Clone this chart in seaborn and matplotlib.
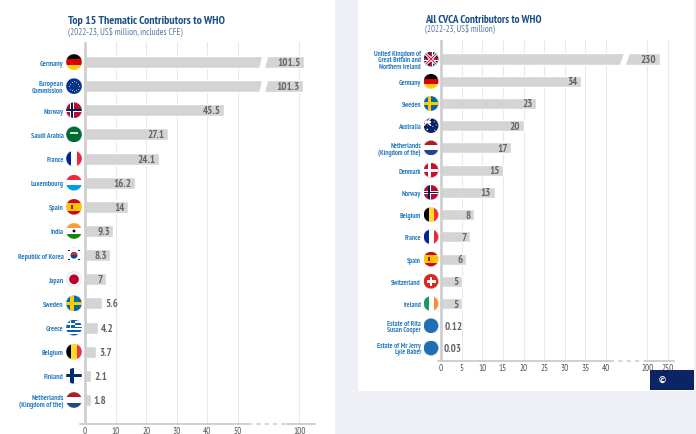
import numpy as np
import pandas as pd
import matplotlib
matplotlib.use("Agg")
import matplotlib.pyplot as plt
import matplotlib.transforms as mtransforms
import seaborn as sns
from matplotlib import font_manager
from matplotlib.patches import Rectangle, Circle, Polygon

# ---------------- data ----------------
left_names = ["Germany", "European\nCommission", "Norway", "Saudi Arabia", "France",
              "Luxembourg", "Spain", "India", "Republic of Korea", "Japan", "Sweden",
              "Greece", "Belgium", "Finland", "Netherlands\n(Kingdom of the)"]
left_values = [101.5, 101.3, 45.5, 27.1, 24.1, 16.2, 14, 9.3, 8.3, 7, 5.6, 4.2, 3.7, 2.1, 1.8]
left_labels = ["101.5", "101.3", "45.5", "27.1", "24.1", "16.2", "14", "9.3", "8.3", "7",
               "5.6", "4.2", "3.7", "2.1", "1.8"]
left_flags = ["de", "eu", "no", "sa", "fr", "lu", "es", "in", "kr", "jp", "se", "gr", "be", "fi", "nl"]
left_ticks = [0, 10, 20, 30, 40, 50, 100]

right_names = ["United Kingdom of\nGreat Britain and\nNorthern Ireland", "Germany", "Sweden",
               "Australia", "Netherlands\n(Kingdom of the)", "Denmark", "Norway", "Belgium",
               "France", "Spain", "Switzerland", "Ireland", "Estate of Rita\nSusan Cooper",
               "Estate of Mr Jerry\nLyle Baber"]
right_values = [230, 34, 23, 20, 17, 15, 13, 8, 7, 6, 5, 5, 0.12, 0.03]
right_labels = ["230", "34", "23", "20", "17", "15", "13", "8", "7", "6", "5", "5", "0.12", "0.03"]
right_flags = ["gb", "de", "se", "au", "nl", "dk", "no", "be", "fr", "es", "ch", "ie", "dot", "dot"]
right_ticks = [0, 5, 10, 15, 20, 25, 30, 35, 40, 200, 250]

# ---------------- style ----------------
W, H, DPI = 696, 435, 100
sns.set_theme(style="white")
avail = {f.name for f in font_manager.fontManager.ttflist}
NARROW = "DejaVu Sans"
for cand in ["PT Sans Narrow", "Fira Sans Condensed", "Roboto Condensed", "Liberation Sans Narrow"]:
    if cand in avail:
        NARROW = cand
        break
plt.rcParams["font.family"] = [NARROW, "DejaVu Sans"]

TITLE_C = "#1c4f86"
SUB_C = "#5a78a0"
NAME_C = "#2a7dc0"
VAL_C = "#666666"
TICK_C = "#555555"
BAR_C = "#d4d4d4"
GRID_C = "#e8e8e8"
AXIS_C = "#cfcfcf"

fig = plt.figure(figsize=(W / DPI, H / DPI), dpi=DPI, facecolor="#eef0f5")

def px_rect(x0, y0, x1, y1):
    return [x0 / W, 1 - y1 / H, (x1 - x0) / W, (y1 - y0) / H]

# panels
fig.patches.append(Rectangle((0, 0), 335 / W, 1, transform=fig.transFigure,
                             facecolor="white", edgecolor="none", zorder=-10))
fig.patches.append(Rectangle((358 / W, 1 - 392 / H), (694 - 358) / W, 392 / H,
                             transform=fig.transFigure, facecolor="white",
                             edgecolor="none", zorder=-10))

# ---------------- flags ----------------
def draw_flag(cx, cy, d, kind):
    fa = fig.add_axes([(cx - d / 2) / W, (cy - d / 2) / H, d / W, d / H])
    fa.set_xlim(0, 1)
    fa.set_ylim(0, 1)
    fa.set_axis_off()
    fa.patch.set_alpha(0)
    clip = Circle((0.5, 0.5), 0.5, transform=fa.transData)

    def add(p):
        fa.add_patch(p)
        p.set_clip_path(clip)
        return p

    def rect(x, y, w, h, c):
        add(Rectangle((x, y), w, h, facecolor=c, edgecolor="none"))

    def hstripes(colors, weights=None):
        weights = weights or [1] * len(colors)
        tot = sum(weights)
        y = 1.0
        for c, wt in zip(colors, weights):
            h = wt / tot
            rect(0, y - h, 1, h, c)
            y -= h

    def vstripes(colors):
        n = len(colors)
        for k, c in enumerate(colors):
            rect(k / n, 0, 1 / n, 1, c)

    def nordic(bg, c1, c2=None):
        rect(0, 0, 1, 1, bg)
        rect(0.28, 0, 0.2, 1, c1)
        rect(0, 0.4, 1, 0.2, c1)
        if c2:
            rect(0.33, 0, 0.1, 1, c2)
            rect(0, 0.45, 1, 0.1, c2)

    def line(xs, ys, c, lw):
        ln, = fa.plot(xs, ys, color=c, lw=lw, solid_capstyle="butt")
        ln.set_clip_path(clip)

    if kind == "de":
        hstripes(["#000000", "#dd0000", "#ffce00"])
    elif kind == "eu":
        rect(0, 0, 1, 1, "#003399")
        a = np.linspace(0, 2 * np.pi, 13)[:-1]
        fa.scatter(0.5 + 0.3 * np.cos(a), 0.5 + 0.3 * np.sin(a), s=0.5, color="#ffcc00",
                   zorder=3, linewidths=0)
    elif kind == "no":
        nordic("#ba0c2f", "#ffffff", "#00205b")
    elif kind == "sa":
        rect(0, 0, 1, 1, "#006c35")
        rect(0.25, 0.52, 0.5, 0.12, "#cfe5d5")
        rect(0.28, 0.38, 0.44, 0.05, "#cfe5d5")
    elif kind == "fr":
        vstripes(["#002395", "#ffffff", "#ed2939"])
    elif kind == "lu":
        hstripes(["#ed2939", "#ffffff", "#00a1de"])
    elif kind == "es":
        hstripes(["#c60b1e", "#ffc400", "#c60b1e"], [1, 2, 1])
        rect(0.3, 0.36, 0.16, 0.28, "#ad1519")
    elif kind == "in":
        hstripes(["#ff9933", "#ffffff", "#138808"])
        add(Circle((0.5, 0.5), 0.09, facecolor="#000080", edgecolor="none"))
    elif kind == "kr":
        rect(0, 0, 1, 1, "#ffffff")
        inner = Circle((0.5, 0.5), 0.22, transform=fa.transData)
        p1 = Rectangle((0.28, 0.5), 0.44, 0.22, facecolor="#cd2e3a", edgecolor="none")
        p2 = Rectangle((0.28, 0.28), 0.44, 0.22, facecolor="#0047a0", edgecolor="none")
        for p in (p1, p2):
            fa.add_patch(p)
            p.set_clip_path(inner)
        for (x, y) in [(0.2, 0.78), (0.8, 0.78), (0.2, 0.22), (0.8, 0.22)]:
            rect(x - 0.07, y - 0.05, 0.14, 0.1, "#222222")
    elif kind == "jp":
        rect(0, 0, 1, 1, "#f4f4f4")
        add(Circle((0.5, 0.5), 0.3, facecolor="#bc002d", edgecolor="none"))
    elif kind == "se":
        nordic("#006aa7", "#fecc00")
    elif kind == "gr":
        for k in range(9):
            rect(0, 1 - (k + 1) / 9, 1, 1 / 9, "#0d5eaf" if k % 2 == 0 else "#ffffff")
        rect(0, 4 / 9, 5 / 9, 5 / 9, "#0d5eaf")
        rect(2 / 9, 4 / 9, 1 / 9, 5 / 9, "#ffffff")
        rect(0, 6 / 9, 5 / 9, 1 / 9, "#ffffff")
    elif kind == "be":
        vstripes(["#000000", "#fdda24", "#ef3340"])
    elif kind == "fi":
        nordic("#ffffff", "#002f6c")
    elif kind == "nl":
        hstripes(["#ae1c28", "#ffffff", "#21468b"])
    elif kind == "gb":
        rect(0, 0, 1, 1, "#012169")
        line([0, 1], [0, 1], "#ffffff", 2.2)
        line([0, 1], [1, 0], "#ffffff", 2.2)
        line([0, 1], [0, 1], "#c8102e", 0.7)
        line([0, 1], [1, 0], "#c8102e", 0.7)
        rect(0.4, 0, 0.2, 1, "#ffffff")
        rect(0, 0.4, 1, 0.2, "#ffffff")
        rect(0.45, 0, 0.1, 1, "#c8102e")
        rect(0, 0.45, 1, 0.1, "#c8102e")
    elif kind == "au":
        rect(0, 0, 1, 1, "#012169")
        line([0, 0.5], [0.5, 1], "#ffffff", 1.0)
        line([0, 0.5], [1, 0.5], "#ffffff", 1.0)
        rect(0.2, 0.5, 0.1, 0.5, "#ffffff")
        rect(0, 0.7, 0.5, 0.1, "#ffffff")
        rect(0.225, 0.5, 0.05, 0.5, "#c8102e")
        rect(0, 0.725, 0.5, 0.05, "#c8102e")
        fa.scatter([0.25, 0.72, 0.85, 0.62, 0.75], [0.25, 0.75, 0.55, 0.45, 0.2],
                   s=[1.5, 0.6, 0.6, 0.6, 0.8], color="white", zorder=3, linewidths=0)
    elif kind == "dk":
        nordic("#c8102e", "#ffffff")
    elif kind == "ch":
        rect(0, 0, 1, 1, "#da291c")
        rect(0.41, 0.2, 0.18, 0.6, "#ffffff")
        rect(0.2, 0.41, 0.6, 0.18, "#ffffff")
    elif kind == "ie":
        vstripes(["#169b62", "#ffffff", "#ff883e"])
    else:
        rect(0, 0, 1, 1, "#1f6fb5")
    fa.add_patch(Circle((0.5, 0.5), 0.5, facecolor="none", edgecolor="#dcdcdc", lw=0.3))


# ---------------- chart builder ----------------
def build(names, values, labels, flags, ticks, bp_v, bp_t, ax_px, x0_px, px_per_t,
          row0_px, row_sp, flag_cx, flag_d, name_pad, inside_min, brk_t, brk_w, brk_s,
          dash_t, name_size):
    fwd = lambda v: np.interp(v, bp_v, bp_t)
    inv = lambda t: np.interp(t, bp_t, bp_v)
    ax = fig.add_axes(px_rect(*ax_px))
    ax.patch.set_alpha(0)
    df = pd.DataFrame({"name": names, "value": values})
    sns.barplot(data=df, x="value", y="name", orient="h", color=BAR_C, saturation=1,
                width=0.5, ax=ax, zorder=2)
    ax.set_xscale("function", functions=(fwd, inv))
    t_lo = (ax_px[0] - x0_px) / px_per_t
    t_hi = (ax_px[2] - x0_px) / px_per_t
    ax.set_xlim(inv(t_lo), inv(t_hi))
    n = len(names)
    top = -(row0_px - ax_px[1]) / row_sp
    bot = (n - 1) + (ax_px[3] - (row0_px + (n - 1) * row_sp)) / row_sp
    ax.set_ylim(bot, top)
    ax.set_xlabel("")
    ax.set_ylabel("")
    for s in ax.spines.values():
        s.set_visible(False)
    ax.set_xticks(ticks)
    ax.set_xticklabels([str(t) for t in ticks])
    ax.minorticks_off()
    ax.grid(axis="x", color=GRID_C, lw=0.8, zorder=0)
    ax.grid(axis="y", visible=False)
    ax.tick_params(axis="x", length=0, pad=1.2, labelsize=6.6, labelcolor=TICK_C)
    ax.tick_params(axis="y", length=0, pad=name_pad, labelsize=name_size, labelcolor=NAME_C)
    for lab in ax.get_yticklabels():
        lab.set_fontweight("bold")
        lab.set_linespacing(0.88)
    ax.axvline(0, color=AXIS_C, lw=2.0, zorder=3)
    # bottom axis with dashed break
    bt = mtransforms.blended_transform_factory(ax.transData, ax.transAxes)
    ax.plot([inv(t_lo), inv(dash_t[0])], [0, 0], color=AXIS_C, lw=1.4, transform=bt,
            clip_on=False, zorder=3)
    ax.plot([inv(dash_t[0]), inv(dash_t[1])], [0, 0], color=AXIS_C, lw=1.2, transform=bt,
            clip_on=False, zorder=3, dashes=(2.5, 2.5))
    ax.plot([inv(dash_t[1]), inv(t_hi)], [0, 0], color=AXIS_C, lw=1.4, transform=bt,
            clip_on=False, zorder=3)
    # value labels
    for i, (v, lab) in enumerate(zip(values, labels)):
        if v >= inside_min:
            tr = mtransforms.offset_copy(ax.transData, fig=fig, x=-3.5, y=0, units="dots")
            ha = "right"
        else:
            tr = mtransforms.offset_copy(ax.transData, fig=fig, x=3, y=0, units="dots")
            ha = "left"
        ax.text(v, i, lab, transform=tr, ha=ha, va="center", fontsize=7.8,
                fontweight="bold", color=VAL_C, zorder=5)
        # broken bar
        if fwd(v) > brk_t + 2:
            poly = [(inv(brk_t - brk_w + brk_s), i - 0.32), (inv(brk_t + brk_w + brk_s), i - 0.32),
                    (inv(brk_t + brk_w - brk_s), i + 0.32), (inv(brk_t - brk_w - brk_s), i + 0.32)]
            ax.add_patch(Polygon(poly, closed=True, facecolor="white", edgecolor="none", zorder=4))
    # flags
    for i, f in enumerate(flags):
        cy = ax.transData.transform((1, i))[1]
        draw_flag(flag_cx, cy, flag_d, f)
    return ax


# left chart
build(left_names, left_values, left_labels, left_flags, left_ticks,
      bp_v=[-1000, 50, 100, 1000], bp_t=[-1000, 50, 70, 970],
      ax_px=(80, 43, 315, 425), x0_px=85, px_per_t=3.06,
      row0_px=63, row_sp=(401 - 63) / 14, flag_cx=74, flag_d=16, name_pad=11.8,
      inside_min=6, brk_t=58.4, brk_w=0.98, brk_s=0.65, dash_t=(53.3, 66.0), name_size=5.3)

# right chart
build(right_names, right_values, right_labels, right_flags, right_ticks,
      bp_v=[-1000, 40, 200, 2000], bp_t=[-1000, 40, 50, 230],
      ax_px=(438, 41, 674, 362), x0_px=441, px_per_t=4.125,
      row0_px=60, row_sp=(349 - 60) / 13, flag_cx=431, flag_d=15, name_pad=12.3,
      inside_min=1, brk_t=44.6, brk_w=0.72, brk_s=0.62, dash_t=(40.9, 49.4), name_size=5.1)

# titles
fig.text(68 / W, 1 - 24 / H, "Top 15 Thematic Contributors to WHO", fontsize=8.5,
         fontweight="bold", color=TITLE_C, ha="left", va="baseline")
fig.text(68 / W, 1 - 34.5 / H, "(2022-23, US$ million, includes CFE)", fontsize=6.6,
         color=SUB_C, ha="left", va="baseline")
fig.text(425 / W, 1 - 23 / H, "All CVCA Contributors to WHO", fontsize=8.0,
         fontweight="bold", color=TITLE_C, ha="left", va="baseline")
fig.text(425 / W, 1 - 32 / H, "(2022-23, US$ million)", fontsize=6.4,
         color=SUB_C, ha="left", va="baseline")

# copyright box
fig.patches.append(Rectangle((650 / W, 1 - 391 / H), 44 / W, 20 / H, transform=fig.transFigure,
                             facecolor="#0b2463", edgecolor="none", zorder=5))
fig.text(662 / W, 1 - 381 / H, "©", fontsize=6.5, color="white", ha="center", va="center",
         fontweight="bold", zorder=6, family=["DejaVu Sans"])

fig.savefig("out.png", dpi=DPI, facecolor=fig.get_facecolor())
